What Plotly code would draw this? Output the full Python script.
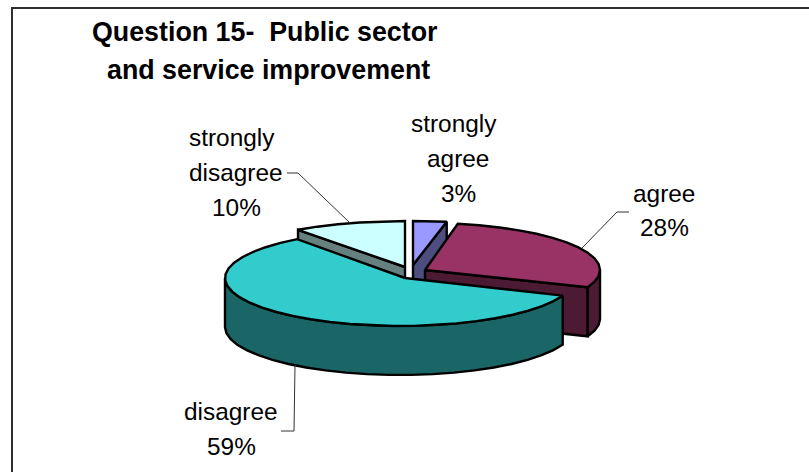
import numpy as np
import plotly.graph_objects as go

# Survey responses, in the order the slices run clockwise from twelve o'clock
categories = ["strongly agree", "agree", "disagree", "strongly disagree"]
percentages = [3, 28, 59, 10]

top_colors = ["#9999FF", "#993366", "#33CCCC", "#CCFFFF"]
side_colors = ["#4D4D80", "#4D1A33", "#1A6666", "#668080"]

# Exploded pie geometry, in page pixels: slice tip, rim centre x and rim radii
DEPTH = 49
geometry = {
    "strongly agree": dict(tip=(413, 265), cx=413, rx=180, ry=44),
    "agree": dict(tip=(425, 270), cx=425, rx=175, ry=47),
    "disagree": dict(tip=(405, 278), cx=400, rx=175, ry=48),
    "strongly disagree": dict(tip=(405, 267), cx=405, rx=182, ry=46),
}
draw_order = ["strongly disagree", "strongly agree", "agree", "disagree"]

fractions = np.array(percentages) / sum(percentages)
ends = np.cumsum(fractions) * 2 * np.pi
starts = ends - fractions * 2 * np.pi
slices = {
    c: (starts[i], ends[i], top_colors[i], side_colors[i])
    for i, c in enumerate(categories)
}


def rim(g, a0, a1):
    n = max(2, int((a1 - a0) / np.radians(7)) + 1)
    t = np.linspace(a0, a1, n)
    return g["cx"] + g["rx"] * np.sin(t), g["tip"][1] - g["ry"] * np.cos(t)


fig = go.Figure()


def polygon(xs, ys, color):
    fig.add_trace(go.Scatter(
        x=list(xs), y=list(ys), mode="lines", fill="toself", fillcolor=color,
        line=dict(color="#000000", width=2.4), hoverinfo="skip", showlegend=False,
    ))


def cut_face(g, angle, color):
    tx, ty = g["tip"]
    x, y = rim(g, angle, angle)
    polygon([tx, x[0], x[0], tx, tx],
            [ty, y[0], y[0] + DEPTH, ty + DEPTH, ty], color)


def draw_slice(name):
    a0, a1, top, side = slices[name]
    g = geometry[name]
    tx, ty = g["tip"]
    # Flat faces exposed by pulling the slice out of the pie
    if name in ("strongly agree", "agree"):
        cut_face(g, a1, side)
    if name == "strongly disagree":
        cut_face(g, a0, side)
    # Outer wall for the part of the rim that faces the viewer
    w0, w1 = max(a0, np.pi / 2), min(a1, 3 * np.pi / 2)
    if w1 > w0:
        x, y = rim(g, w0, w1)
        polygon(np.r_[x, x[::-1], x[0]], np.r_[y, y[::-1] + DEPTH, y[0]], side)
    x, y = rim(g, a0, a1)
    polygon(np.r_[tx, x, tx], np.r_[ty, y, ty], top)


for name in draw_order:
    draw_slice(name)

# Leader lines from the labels to their slices
leaders = [
    ([287, 298, 349], [173, 173, 222]),
    ([629, 617, 582], [212, 212, 248]),
    ([281, 294, 295], [431, 431, 365]),
]
for lx, ly in leaders:
    fig.add_trace(go.Scatter(
        x=lx, y=ly, mode="lines", line=dict(color="#333333", width=1),
        hoverinfo="skip", showlegend=False,
    ))


def text(x, y, s, size, bold=False):
    fig.add_annotation(
        x=x, y=y, text=f"<b>{s}</b>" if bold else s, showarrow=False,
        xanchor="center", yanchor="middle",
        font=dict(family="Liberation Sans", size=size, color="#000000"),
    )


text(264.5, 32, "Question 15-  Public sector", 26.8, True)
text(268.5, 70, "and service improvement", 26.8, True)

pct = dict(zip(categories, percentages))
text(454, 123, "strongly", 24.4)
text(458, 158, "agree", 24.4)
text(458, 193, f"{pct['strongly agree']}%", 24.4)
text(664, 193, "agree", 24.4)
text(664, 227, f"{pct['agree']}%", 24.4)
text(232, 137, "strongly", 24.4)
text(236, 172, "disagree", 24.4)
text(236, 207, f"{pct['strongly disagree']}%", 24.4)
text(231, 411, "disagree", 24.4)
text(231, 446, f"{pct['disagree']}%", 24.4)

fig.update_layout(
    width=809, height=472, margin=dict(l=0, r=0, t=0, b=0),
    paper_bgcolor="#FFFFFF", plot_bgcolor="#FFFFFF", showlegend=False,
    xaxis=dict(range=[0, 809], visible=False, fixedrange=True),
    yaxis=dict(range=[472, 0], visible=False, fixedrange=True),
    # Chart frame: its right and bottom edges run past the page
    shapes=[dict(type="rect", xref="x", yref="y", x0=12, y0=8, x1=830, y1=490,
                 line=dict(color="#303030", width=2), fillcolor="rgba(0,0,0,0)")],
)
fig.write_html("out.html", config=dict(displayModeBar=False))
